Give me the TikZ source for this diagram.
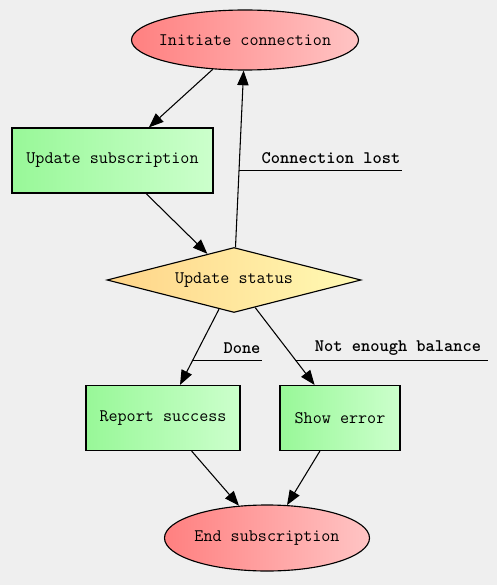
\documentclass[tikz,border=0pt]{standalone}
\usepackage{tikz}
\usetikzlibrary{arrows.meta,shapes.geometric,calc}
\definecolor{bgcol}{HTML}{EFEFEF}
\definecolor{redL}{HTML}{FF8080}
\definecolor{redR}{HTML}{FFC4C4}
\definecolor{greenL}{HTML}{98F898}
\definecolor{greenR}{HTML}{CCFFCC}
\definecolor{yellowL}{HTML}{FFD488}
\definecolor{yellowR}{HTML}{FFFAB4}
\tikzset{
    %Define standard arrow tip
    >={Triangle[length=11pt,width=8.5pt]},
    %Define style for nodes
    termnode/.style={
             ellipse, inner ysep=0pt, inner xsep=-20pt,
             draw=black, line width=0.85pt,
             left color=redL, right color=redR,
             font=\fontsize{13.2}{15}\ttfamily},
    stepnode/.style={
             rectangle, inner sep=0pt,
             draw=black, line width=0.85pt,
             left color=greenL, right color=greenR,
             minimum height=48.75pt,
             font=\fontsize{13.2}{15}\ttfamily},
    decisionnode/.style={
             diamond, aspect=3.9, inner sep=0pt,
             draw=black, line width=0.85pt,
             left color=yellowL, right color=yellowR,
             font=\fontsize{13.2}{15}\ttfamily},
    % Define arrow style
    flowarrow/.style={
            ->,
            line width=0.8pt},
    flowlabel/.style={
            inner sep=1pt,
            font=\fontsize{13.2}{15}\ttfamily\bfseries},
    underline/.style={
            line width=0.8pt}
}
\begin{document}
\begin{tikzpicture}[x=0.75pt, y=-0.75pt]
 \useasboundingbox[fill=bgcol] (0,0) rectangle (497,585);
 \node[termnode, minimum width=170.25pt, minimum height=45pt] (init) at (245,40) {Initiate connection};
 \node[stepnode, minimum width=150.75pt] (subscr) at (112.5,160.5) {Update subscription};
 \node[decisionnode, minimum width=190.5pt, minimum height=48.75pt] (status) at (234,280) {Update status};
 \node[stepnode, minimum width=115.5pt] (success) at (163,418) {Report success};
 \node[stepnode, minimum width=90pt] (error) at (340,418) {Show error};
 \node[termnode, minimum width=153.75pt, minimum height=49.5pt] (finish) at (267,538) {End subscription};
 \path (init) edge[flowarrow] (subscr)
       (subscr) edge[flowarrow] (status)
       (status) edge[flowarrow] (init)
       (status) edge[flowarrow] (success)
       (status) edge[flowarrow] (error)
       (success) edge[flowarrow] (finish)
       (error) edge[flowarrow] (finish);
 % edge labels with underline
 \node[flowlabel] (lost) at (331,158) {Connection lost};
 \node[flowlabel] (done) at (242,348) {Done};
 \node[flowlabel] (broke) at (398,348) {Not enough balance};
 \coordinate (lostpt) at ($(status)!0.458!(init)$);
 \coordinate (donept) at ($(status)!0.58!(success)$);
 \coordinate (brokept) at ($(status)!0.58!(error)$);
 \draw[underline] (lostpt) -- (lostpt -| lost.south east);
 \draw[underline] (donept) -- (donept -| done.south east);
 \draw[underline] (brokept) -- ([xshift=4pt]brokept -| broke.south east);
\end{tikzpicture}
\end{document}
